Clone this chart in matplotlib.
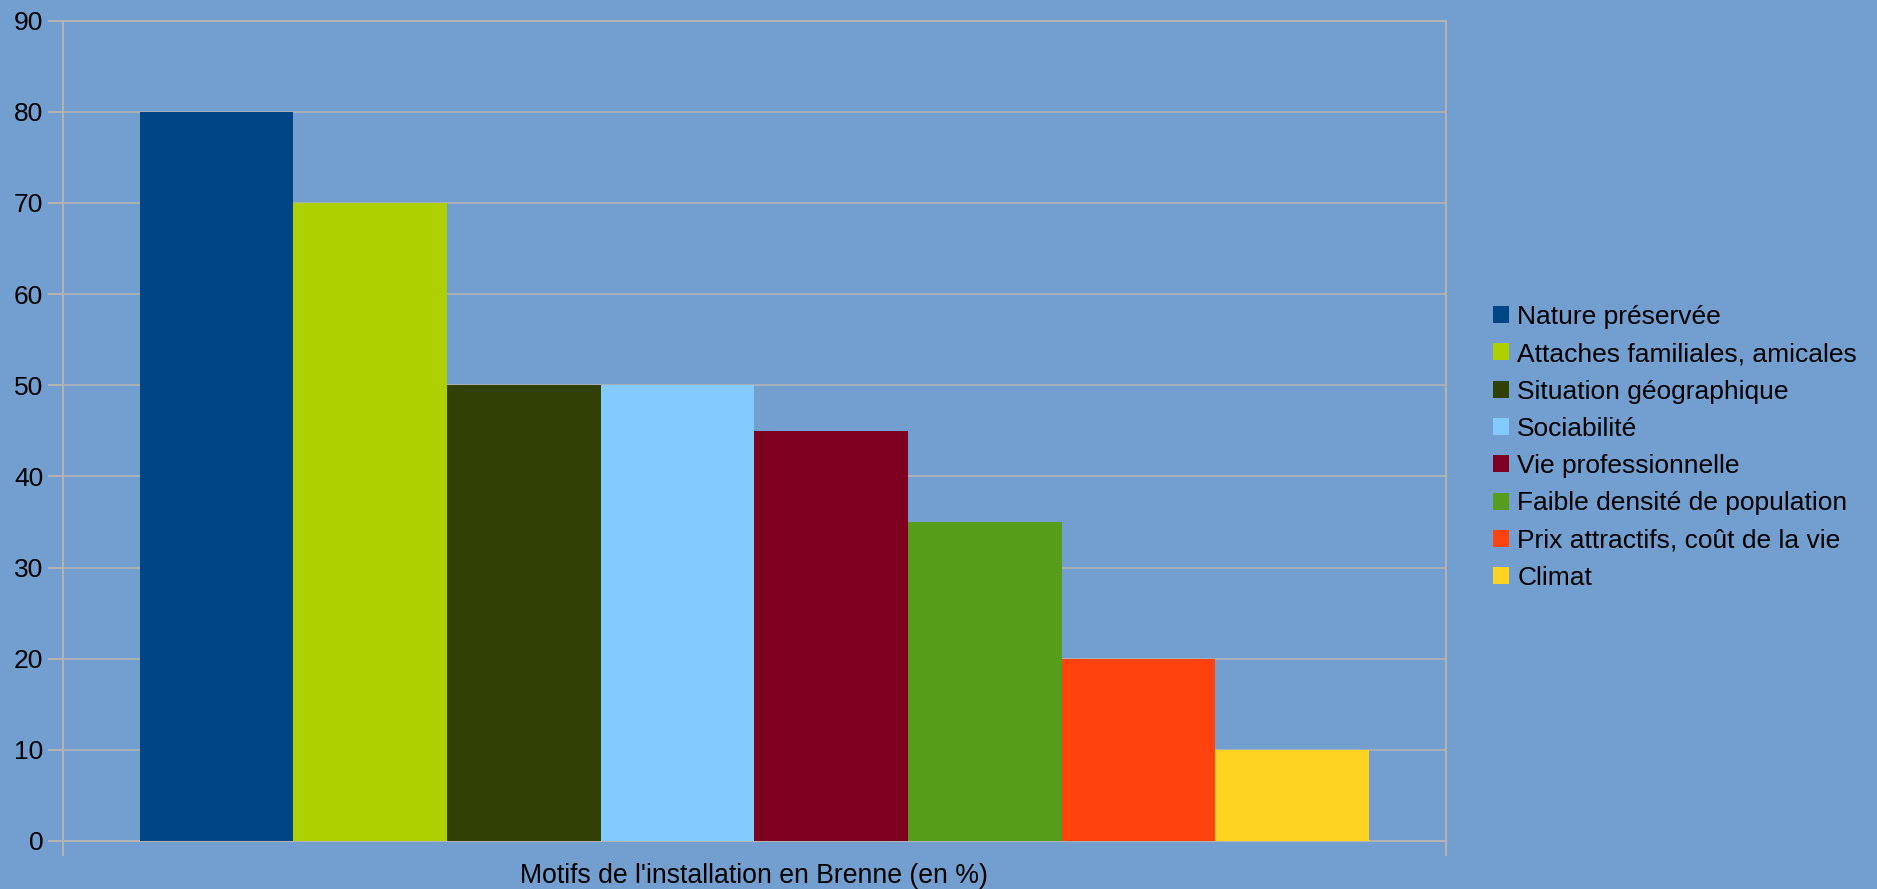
import matplotlib
matplotlib.use("Agg")
import matplotlib.pyplot as plt
from matplotlib.patches import Patch

categories = ["Nature préservée", "Attaches familiales, amicales", "Situation géographique",
              "Sociabilité", "Vie professionnelle", "Faible densité de population",
              "Prix attractifs, coût de la vie", "Climat"]
values = [80, 70, 50, 50, 45, 35, 20, 10]
colors = ["#004586", "#aecf00", "#314004", "#83caff", "#7e0021", "#579d1c", "#ff420e", "#ffd320"]
xlabel = "Motifs de l'installation en Brenne (en %)"
yticks = list(range(0, 100, 10))

plt.rcParams['font.family'] = ['Liberation Sans', 'DejaVu Sans']
bg = "#729fcf"
grid_c = "#b3b3b3"

fig = plt.figure(figsize=(18.77, 8.89), dpi=100, facecolor=bg)
x0, x1, ytop, ybot = 62.7, 1445.7, 20.7, 841
ax = fig.add_axes([x0/1877, 1-ybot/889, (x1-x0)/1877, (ybot-ytop)/889])
ax.set_facecolor(bg)

for i, (v, c) in enumerate(zip(values, colors)):
    ax.bar(i, v, width=1.0, color=c, zorder=3, linewidth=0)

ax.set_xlim(-1, len(values))
ax.set_ylim(0, 90)
ax.set_yticks(yticks)
ax.set_yticklabels([str(t) for t in yticks], fontsize=19)
ax.set_xticks([-1, len(values)])
ax.set_xticklabels(["", ""])
ax.tick_params(axis='both', length=11, width=1.5, color=grid_c, direction='out')
ax.tick_params(axis='y', pad=3)
ax.yaxis.grid(True, color=grid_c, linewidth=1.2, zorder=0)
ax.set_axisbelow(True)
for s in ax.spines.values():
    s.set_color(grid_c)
    s.set_linewidth(1.5)
    s.set_zorder(1)

fig.text((x0+x1)/2/1877, 1-883/889, xlabel, fontsize=19.2, ha='center', va='baseline')

handles = [Patch(facecolor=c, edgecolor='none') for c in colors]
leg = fig.legend(handles, categories, loc='center left', bbox_to_anchor=(1493/1877, 1-447.5/889),
                 frameon=False, fontsize=19, handlelength=0.62, handleheight=0.62,
                 handletextpad=0.3, labelspacing=0.505, borderaxespad=0, borderpad=0)

fig.savefig("out.png", dpi=100, facecolor=bg)
